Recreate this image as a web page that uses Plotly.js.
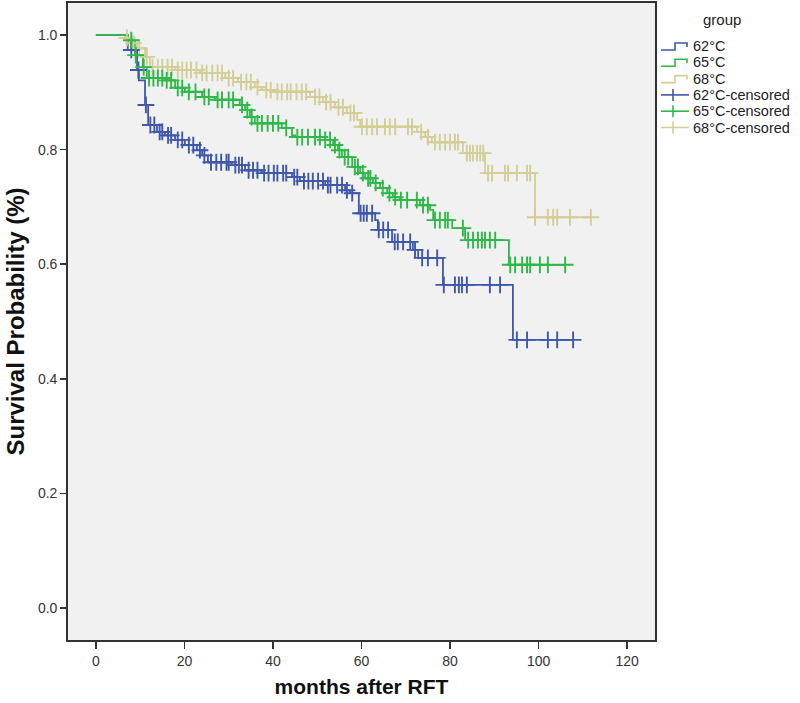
<!DOCTYPE html>
<html>
<head>
<meta charset="utf-8">
<script src="https://cdn.plot.ly/plotly-3.0.1.min.js"></script>
<style>
  body { margin: 0; background: #fff; }
  #km { width: 800px; height: 703px; }
</style>
</head>
<body>
<div id="km"></div>
<script>
'use strict';

// Kaplan-Meier steps: time of each drop (months) and survival after it
const groups = ['62°C', '65°C', '68°C'];

const times62 = [7.2, 9.3, 9.7, 11.1, 11.8, 13.8, 15.6, 17.9, 20.1, 22.8, 24.0, 25.3, 30.7, 33.7,
  37.5, 44.3, 46.1, 51.8, 56.3, 57.4, 59.4, 63.1, 63.7, 66.9, 71.6, 72.8, 78.4, 94.2];
const surv62 = [0.974, 0.939, 0.921, 0.878, 0.843, 0.831, 0.825, 0.817, 0.808, 0.799, 0.790, 0.778,
  0.773, 0.764, 0.759, 0.752, 0.745, 0.738, 0.729, 0.724, 0.689, 0.677, 0.660, 0.639, 0.625, 0.611,
  0.564, 0.468];
const censor62 = [8.0, 9.6, 11.3, 12.3, 13.2, 14.4, 15.0, 16.3, 17.0, 18.5, 19.5, 21.0, 22.0, 23.5,
  24.5, 26.0, 27.2, 28.3, 29.5, 30.0, 31.5, 32.3, 33.0, 34.5, 35.5, 36.5, 38.0, 39.0, 40.2, 41.0,
  42.3, 43.0, 44.8, 45.5, 47.0, 48.0, 49.0, 50.2, 51.3, 52.4, 53.0, 54.5, 55.6, 56.7, 57.9, 59.8,
  60.5, 61.2, 62.4, 63.9, 64.9, 66.0, 67.5, 68.2, 69.4, 71.0, 72.1, 73.7, 75.0, 77.1, 78.6, 81.1,
  82.0, 82.7, 83.8, 89.0, 91.3, 95.1, 97.4, 102.1, 104.2, 107.8];

const times65 = [7.2, 8.8, 10.6, 11.5, 15.6, 17.9, 20.1, 24.0, 26.9, 32.5, 33.7, 34.8, 35.9, 42.0,
  44.3, 45.0, 51.8, 53.6, 54.7, 55.6, 57.9, 59.7, 60.8, 62.6, 64.2, 65.8, 67.1, 68.7, 73.2, 75.5,
  76.2, 80.5, 83.4, 93.3];
const surv65 = [0.991, 0.965, 0.944, 0.925, 0.921, 0.908, 0.901, 0.892, 0.887, 0.878, 0.869, 0.857,
  0.846, 0.838, 0.825, 0.822, 0.817, 0.808, 0.799, 0.787, 0.770, 0.759, 0.750, 0.742, 0.733, 0.724,
  0.717, 0.712, 0.703, 0.695, 0.677, 0.663, 0.642, 0.599];
const censor65 = [8.0, 9.0, 10.8, 12.0, 13.0, 14.0, 15.0, 16.0, 17.0, 18.5, 19.5, 21.0, 22.5, 24.5,
  25.5, 27.5, 28.5, 30.0, 31.0, 33.0, 34.2, 35.2, 36.5, 37.5, 38.8, 40.0, 41.2, 43.0, 45.5, 46.6,
  47.9, 49.5, 50.6, 51.8, 52.9, 54.0, 55.0, 56.2, 57.0, 58.5, 59.2, 60.3, 61.5, 62.0, 63.2, 64.8,
  66.3, 67.6, 68.9, 70.3, 72.5, 73.9, 75.0, 76.6, 77.7, 78.9, 79.5, 82.9, 84.1, 85.2, 86.3, 87.2,
  87.9, 89.0, 90.2, 93.6, 94.7, 96.3, 97.4, 98.1, 100.3, 102.1, 106.0];

const times68 = [6.6, 8.1, 9.3, 11.1, 12.2, 17.9, 23.5, 29.2, 32.1, 35.9, 37.5, 40.5, 48.4, 51.3,
  54.0, 56.7, 59.0, 59.7, 72.5, 74.4, 75.9, 82.9, 87.9, 99.2];
const surv68 = [0.995, 0.986, 0.977, 0.962, 0.944, 0.939, 0.934, 0.925, 0.918, 0.909, 0.904, 0.901,
  0.892, 0.883, 0.874, 0.864, 0.852, 0.840, 0.831, 0.822, 0.813, 0.794, 0.759, 0.682];
const censor68 = [7.0, 8.5, 9.8, 11.5, 12.8, 14.0, 15.0, 16.2, 17.2, 18.5, 19.5, 20.5, 21.5, 22.7,
  24.0, 25.0, 26.3, 27.5, 28.5, 30.0, 31.0, 32.8, 34.0, 35.0, 36.5, 38.5, 39.5, 41.0, 42.0, 43.2,
  44.0, 45.3, 46.5, 47.5, 49.5, 50.5, 52.0, 53.0, 54.8, 55.8, 57.5, 58.3, 60.1, 61.2, 62.4, 63.5,
  65.3, 66.4, 67.6, 70.5, 71.4, 73.5, 75.0, 76.6, 77.7, 78.9, 80.0, 81.1, 81.8, 83.8, 84.5, 85.2,
  86.1, 86.8, 87.5, 88.6, 89.5, 92.4, 93.1, 95.1, 97.4, 98.1, 99.2, 102.1, 103.3, 104.2, 107.1, 111.8];

const xTicks = [0, 20, 40, 60, 80, 100, 120];
const yTicks = [0.0, 0.2, 0.4, 0.6, 0.8, 1.0];

const colors = ['#3e58ac', '#2eb848', '#d3ce97'];
const series = [
  {times: times62, surv: surv62, censor: censor62},
  {times: times65, surv: surv65, censor: censor65},
  {times: times68, surv: surv68, censor: censor68}
];

// survival at time t from the step arrays
function survAt(times, surv, t) {
  let s = 1;
  for (let i = 0; i < times.length; i++) {
    if (times[i] <= t) s = surv[i];
  }
  return s;
}

const lineTraces = [];
const censorTraces = [];

series.forEach((g, i) => {
  const end = Math.max(...g.censor);
  lineTraces.push({
    x: [0].concat(g.times, [end]),
    y: [1].concat(g.surv, [g.surv[g.surv.length - 1]]),
    type: 'scatter',
    mode: 'lines',
    name: groups[i],
    line: {color: colors[i], width: 1.8, shape: 'hv'},
    hoverinfo: 'none'
  });
  censorTraces.push({
    x: g.censor,
    y: g.censor.map(t => survAt(g.times, g.surv, t)),
    type: 'scatter',
    mode: 'markers',
    name: groups[i] + '-censored',
    marker: {symbol: 'cross-thin', size: 12, line: {color: colors[i], width: 1.9}},
    hoverinfo: 'none'
  });
});

// draw beige first, then blue, then green on top
const order = [2, 0, 1];
const data = order.map(i => lineTraces[i]).concat(order.map(i => censorTraces[i]));

// hand-drawn legend on the right (SPSS style step glyphs), positions in pixels
const plotL = 68, plotR = 655, plotT = 3, plotB = 640;
const px = x => (x - plotL) / (plotR - plotL);
const py = y => (plotB - y) / (plotB - plotT);

const fontFam = 'Liberation Sans, Arial, sans-serif';
const legendShapes = [];
const legendNotes = [{
  xref: 'paper', yref: 'paper', x: px(722), y: py(19), xanchor: 'center', yanchor: 'middle',
  text: 'group', showarrow: false, font: {family: fontFam, size: 15, color: '#222'}
}];

const legendLabels = groups.concat(groups.map(g => g + '-censored'));
legendLabels.forEach((label, k) => {
  const yc = 46 + 16.3 * k;
  const c = colors[k % 3];
  if (k < 3) {
    legendShapes.push({
      type: 'path', xref: 'paper', yref: 'paper',
      path: 'M ' + px(661) + ',' + py(yc + 4) + ' L ' + px(675) + ',' + py(yc + 4) +
        ' L ' + px(675) + ',' + py(yc - 3) + ' L ' + px(687) + ',' + py(yc - 3) +
        ' L ' + px(687) + ',' + py(yc + 1),
      line: {color: c, width: 1.6}
    });
  } else {
    legendShapes.push({
      type: 'line', xref: 'paper', yref: 'paper',
      x0: px(661), x1: px(689), y0: py(yc), y1: py(yc), line: {color: c, width: 1.6}
    }, {
      type: 'line', xref: 'paper', yref: 'paper',
      x0: px(673), x1: px(673), y0: py(yc - 6), y1: py(yc + 6), line: {color: c, width: 1.6}
    });
  }
  legendNotes.push({
    xref: 'paper', yref: 'paper', x: px(691), y: py(yc), xanchor: 'left', yanchor: 'middle',
    text: label, showarrow: false, font: {family: fontFam, size: 14.5, color: '#222'}
  });
});

const axisFont = {family: fontFam, size: 14, color: '#333'};

const layout = {
  width: 800,
  height: 703,
  paper_bgcolor: '#ffffff',
  plot_bgcolor: '#f1f1f1',
  margin: {l: plotL, r: 800 - plotR, t: plotT, b: 703 - plotB},
  showlegend: false,
  shapes: legendShapes,
  annotations: legendNotes,
  xaxis: {
    range: [-6.3, 126.3],
    tickvals: xTicks,
    ticktext: xTicks.map(String),
    ticks: 'outside',
    ticklen: 7,
    tickwidth: 1.5,
    tickcolor: '#333',
    showgrid: false,
    zeroline: false,
    showline: true,
    mirror: true,
    linecolor: '#333',
    linewidth: 1.8,
    tickfont: axisFont,
    title: {text: 'months after RFT', standoff: 12,
      font: {family: fontFam, size: 21, color: '#111', weight: 'bold'}}
  },
  yaxis: {
    range: [-0.056, 1.056],
    tickvals: yTicks,
    ticktext: yTicks.map(v => v.toFixed(1)),
    ticks: 'outside',
    ticklen: 6,
    tickwidth: 1.5,
    tickcolor: '#333',
    showgrid: false,
    zeroline: false,
    showline: true,
    mirror: true,
    linecolor: '#333',
    linewidth: 1.8,
    tickfont: axisFont,
    title: {text: 'Survival Probability (%)', standoff: 6,
      font: {family: fontFam, size: 24, color: '#111', weight: 'bold'}}
  }
};

Plotly.newPlot('km', data, layout, {displayModeBar: false, staticPlot: true});
</script>
</body>
</html>
